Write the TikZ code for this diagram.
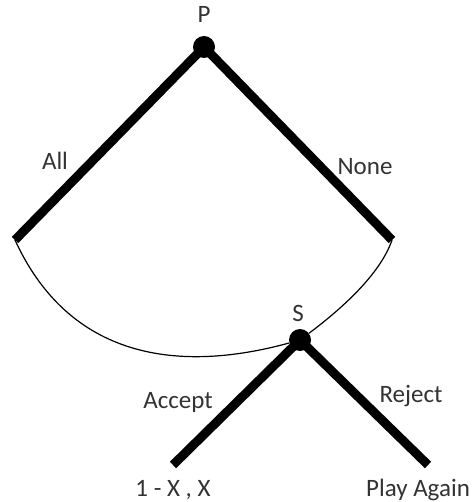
\documentclass[tikz,border=0pt]{standalone}
\usepackage{fontspec}
\setmainfont{Carlito}
\usetikzlibrary{positioning}

\begin{document}
\begin{tikzpicture}[x=1pt,y=-1pt,font=\fontsize{25}{30}\selectfont,
    branch/.style={line width=9pt},
    decnode/.style={circle,fill,inner sep=0pt,minimum size=22pt},
    lab/.style={text=black!80}]
  \useasboundingbox[fill=white] (0,0) rectangle (474,502);
  % decision nodes
  \node[decnode] (P) at (204,47) {};
  \node[decnode] (S) at (300,340) {};
  \coordinate (all) at (15,240);
  \coordinate (none) at (392,240);
  \coordinate (acc) at (173,465);
  \coordinate (rej) at (428,465);
  \foreach \a/\b in {P/all,P/none,S/acc,S/rej} {
    \draw[branch] (\a.center) -- (\b);
  }
  % information set
  \draw[line width=1.2pt] (all) .. controls (70,360) and (180,373) .. (S);
  \draw[line width=1.2pt] (S) .. controls (340,310) and (380,275) .. (none);
  % labels
  \node[lab] (lP) at (204,14) {P};
  \node[lab] (lS) at (298,313) {S};
  \node[lab] (lall) at (55,161) {All};
  \node[lab] (lnone) at (365,167) {None};
  \node[lab] (lacc) at (178,402) {Accept};
  \node[lab] (lrej) at (411,396) {Reject};
  \node[lab] (lpay) at (173,490) {1 - X , X};
  \node[lab] (lplay) at (418,490) {Play Again};
\end{tikzpicture}
\end{document}
